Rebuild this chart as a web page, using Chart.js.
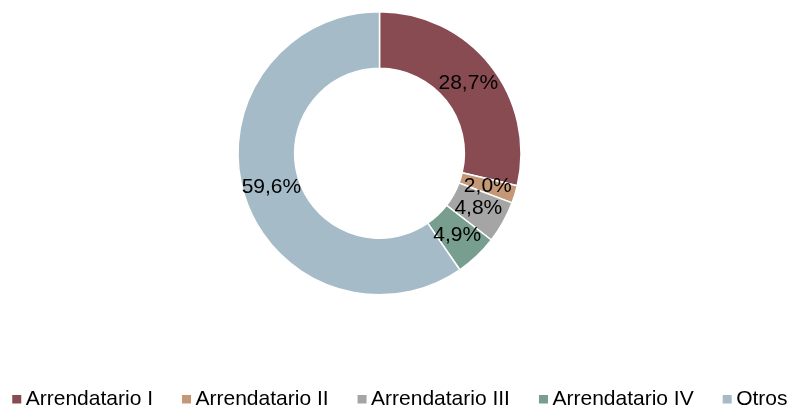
<!DOCTYPE html>
<html><head><meta charset="utf-8">
<script src="https://cdn.jsdelivr.net/npm/chart.js@4/dist/chart.umd.min.js"></script>
<style>html,body{margin:0;padding:0;background:#fff;} #wrap{width:791px;height:409px;}</style>
</head><body>
<div id="wrap"><canvas id="c" width="791" height="409"></canvas></div>
<script>
const categories = ['Arrendatario I', 'Arrendatario II', 'Arrendatario III', 'Arrendatario IV', 'Otros'];
const shares = [28.7, 2.0, 4.8, 4.9, 59.6];
const sliceColors = ['#894B52', '#C49776', '#A5A5A5', '#779E8E', '#A6BBC8'];

const fmt = v => v.toFixed(1).replace('.', ',') + '%';
Chart.defaults.font.family = '"Liberation Sans", Arial, sans-serif';

const legendPlacement = {
  id: 'legendPlacement',
  beforeInit(chart) {
    const lg = chart.legend;
    const orig = lg.fit;
    lg.fit = function () { this.maxWidth = 2000; orig.call(this); this.height = 113.5; };
  },
  afterLayout(chart) {
    const lg = chart.legend;
    const h = lg.height;
    lg.top = 357; lg.bottom = 357 + h;
    lg.left = -200; lg.right = 1002.8; lg.width = 1202.8;
  },
  afterDraw(chart) {
    const lg = chart.legend;
    const ctx = chart.ctx;
    ctx.save();
    (lg.legendHitBoxes || []).forEach((hb, i) => {
      ctx.fillStyle = sliceColors[i];
      const cy = hb.top + hb.height / 2;
      ctx.fillRect(hb.left - 3, cy - 4.5, 9, 8.5);
    });
    ctx.restore();
  }
};

const sliceLabels = {
  id: 'sliceLabels',
  afterDatasetsDraw(chart) {
    const ctx = chart.ctx;
    const meta = chart.getDatasetMeta(0);
    ctx.save();
    ctx.font = '21px "Liberation Sans", Arial, sans-serif';
    ctx.fillStyle = '#000';
    ctx.textAlign = 'center';
    ctx.textBaseline = 'middle';
    meta.data.forEach((arc, i) => {
      const p = arc.tooltipPosition();
      ctx.fillText(fmt(shares[i]), p.x, p.y);
    });
    ctx.restore();
  }
};

new Chart(document.getElementById('c'), {
  type: 'doughnut',
  data: {
    labels: categories,
    datasets: [{
      data: shares,
      backgroundColor: sliceColors,
      borderColor: '#ffffff',
      borderWidth: 1.5
    }]
  },
  options: {
    responsive: false,
    devicePixelRatio: 1,
    animation: false,
    cutout: '60%',
    layout: { padding: { top: 11, left: 0, right: 32, bottom: 0 } },
    plugins: {
      tooltip: { enabled: false },
      legend: {
        position: 'bottom',
        labels: {
          color: '#000',
          font: { size: 21 },
          boxWidth: 0,
          boxHeight: 0,
          padding: 32,
          generateLabels(chart) {
            const items = Chart.overrides.doughnut.plugins.legend.labels.generateLabels(chart);
            items.forEach(it => { it.lineWidth = 0; it.strokeStyle = 'rgba(0,0,0,0)'; it.fillStyle = 'rgba(0,0,0,0)'; });
            return items;
          }
        }
      }
    }
  },
  plugins: [legendPlacement, sliceLabels]
});
</script>
</body></html>
